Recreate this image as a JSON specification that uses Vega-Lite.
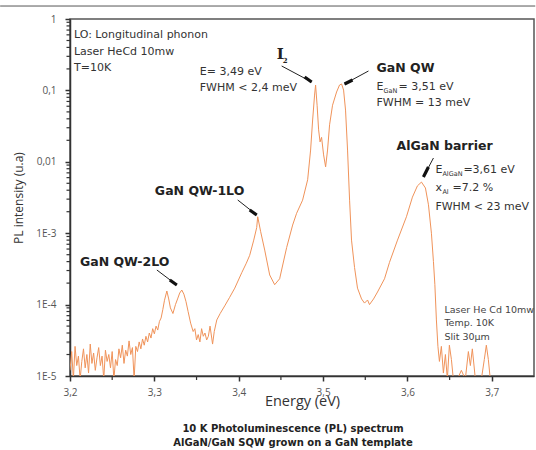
{
  "$schema": "https://vega.github.io/schema/vega-lite/v6.json",
  "width": 464,
  "height": 357,
  "autosize": "none",
  "padding": {"left": 70, "top": 19, "right": 2, "bottom": 74},
  "background": "white",
  "config": {
    "view": {"stroke": "#555", "strokeWidth": 1.5},
    "axis": {"domain": true, "ticks": true, "tickSize": 5, "tickColor": "#333", "tickWidth": 1.5, "domainColor": "#333", "domainWidth": 1.5, "grid": false},
    "text": {"align": "left", "baseline": "middle"}
  },
  "title": {
    "text": ["10 K Photoluminescence (PL) spectrum", "AlGaN/GaN SQW grown on a GaN template"],
    "orient": "bottom",
    "anchor": "middle",
    "frame": "group",
    "font": "DejaVu Sans",
    "fontSize": 10,
    "fontWeight": "bold",
    "color": "#222",
    "offset": 16,
    "dx": -9,
    "lineHeight": 14
  },
  "datasets": {
    "pl": [
      {"e": 3.200, "i": 1.2e-5}, {"e": 3.202, "i": 2.2e-5}, {"e": 3.204, "i": 9e-6}, {"e": 3.206, "i": 2.6e-5},
      {"e": 3.208, "i": 1.4e-5}, {"e": 3.210, "i": 1.9e-5}, {"e": 3.212, "i": 9e-6}, {"e": 3.214, "i": 1.6e-5},
      {"e": 3.216, "i": 2.4e-5}, {"e": 3.218, "i": 1.3e-5}, {"e": 3.220, "i": 2.0e-5}, {"e": 3.222, "i": 1.1e-5},
      {"e": 3.224, "i": 2.8e-5}, {"e": 3.226, "i": 1.5e-5}, {"e": 3.228, "i": 2.1e-5}, {"e": 3.230, "i": 1.2e-5},
      {"e": 3.232, "i": 1.8e-5}, {"e": 3.234, "i": 2.5e-5}, {"e": 3.236, "i": 1.4e-5}, {"e": 3.238, "i": 1.9e-5},
      {"e": 3.240, "i": 9e-6}, {"e": 3.242, "i": 2.3e-5}, {"e": 3.244, "i": 1.6e-5}, {"e": 3.246, "i": 2.0e-5},
      {"e": 3.248, "i": 1.3e-5}, {"e": 3.250, "i": 2.2e-5}, {"e": 3.252, "i": 9e-6}, {"e": 3.254, "i": 1.7e-5},
      {"e": 3.256, "i": 1.4e-5}, {"e": 3.258, "i": 2.4e-5}, {"e": 3.260, "i": 1.8e-5}, {"e": 3.262, "i": 2.7e-5},
      {"e": 3.264, "i": 1.5e-5}, {"e": 3.266, "i": 2.3e-5}, {"e": 3.268, "i": 1.9e-5}, {"e": 3.270, "i": 3.1e-5},
      {"e": 3.272, "i": 2.0e-5}, {"e": 3.274, "i": 2.5e-5}, {"e": 3.276, "i": 9e-6}, {"e": 3.278, "i": 2.6e-5},
      {"e": 3.280, "i": 2.2e-5}, {"e": 3.282, "i": 3.0e-5}, {"e": 3.284, "i": 2.4e-5}, {"e": 3.286, "i": 3.3e-5},
      {"e": 3.288, "i": 2.7e-5}, {"e": 3.290, "i": 3.6e-5}, {"e": 3.292, "i": 3.0e-5}, {"e": 3.294, "i": 4.0e-5},
      {"e": 3.296, "i": 3.4e-5}, {"e": 3.298, "i": 4.6e-5}, {"e": 3.300, "i": 3.9e-5}, {"e": 3.302, "i": 5.0e-5},
      {"e": 3.304, "i": 4.4e-5}, {"e": 3.306, "i": 5.8e-5}, {"e": 3.308, "i": 6.5e-5}, {"e": 3.310, "i": 8.5e-5},
      {"e": 3.312, "i": 1.15e-4}, {"e": 3.3148, "i": 1.55e-4}, {"e": 3.317, "i": 1.2e-4}, {"e": 3.319, "i": 9e-5},
      {"e": 3.322, "i": 7.5e-5}, {"e": 3.325, "i": 1.0e-4}, {"e": 3.3275, "i": 1.2e-4}, {"e": 3.330, "i": 1.45e-4},
      {"e": 3.3325, "i": 1.6e-4}, {"e": 3.335, "i": 1.4e-4}, {"e": 3.3375, "i": 1.1e-4}, {"e": 3.340, "i": 8.0e-5},
      {"e": 3.343, "i": 5.5e-5}, {"e": 3.346, "i": 4.2e-5}, {"e": 3.348, "i": 4.6e-5}, {"e": 3.350, "i": 3.2e-5},
      {"e": 3.352, "i": 3.8e-5}, {"e": 3.354, "i": 3.0e-5}, {"e": 3.356, "i": 4.6e-5}, {"e": 3.358, "i": 3.6e-5},
      {"e": 3.360, "i": 4.0e-5}, {"e": 3.362, "i": 3.2e-5}, {"e": 3.364, "i": 3.6e-5}, {"e": 3.366, "i": 5.0e-5},
      {"e": 3.368, "i": 3.4e-5}, {"e": 3.369, "i": 2.8e-5}, {"e": 3.371, "i": 4.2e-5}, {"e": 3.374, "i": 6.1e-5},
      {"e": 3.378, "i": 7.5e-5}, {"e": 3.3834, "i": 9.6e-5}, {"e": 3.389, "i": 1.25e-4}, {"e": 3.3953, "i": 1.7e-4},
      {"e": 3.4036, "i": 2.8e-4}, {"e": 3.409, "i": 3.8e-4}, {"e": 3.413, "i": 4.9e-4}, {"e": 3.4178, "i": 8.0e-4},
      {"e": 3.4213, "i": 1.2e-3}, {"e": 3.4225, "i": 1.7e-3}, {"e": 3.426, "i": 1.05e-3}, {"e": 3.4308, "i": 5.8e-4},
      {"e": 3.4367, "i": 2.6e-4}, {"e": 3.4426, "i": 1.9e-4}, {"e": 3.4485, "i": 2.3e-4}, {"e": 3.4568, "i": 6.3e-4},
      {"e": 3.4639, "i": 1.3e-3}, {"e": 3.4686, "i": 1.9e-3}, {"e": 3.4757, "i": 2.9e-3}, {"e": 3.4817, "i": 5.6e-3},
      {"e": 3.4852, "i": 0.0146}, {"e": 3.4876, "i": 0.0385}, {"e": 3.4899, "i": 0.086}, {"e": 3.4911, "i": 0.119},
      {"e": 3.4929, "i": 0.062}, {"e": 3.4947, "i": 0.028}, {"e": 3.4964, "i": 0.019}, {"e": 3.4982, "i": 0.022},
      {"e": 3.5006, "i": 0.0125}, {"e": 3.503, "i": 0.0085}, {"e": 3.5053, "i": 0.0146}, {"e": 3.5077, "i": 0.033},
      {"e": 3.5112, "i": 0.062}, {"e": 3.516, "i": 0.095}, {"e": 3.5195, "i": 0.119}, {"e": 3.5219, "i": 0.123},
      {"e": 3.5243, "i": 0.101}, {"e": 3.5266, "i": 0.053}, {"e": 3.529, "i": 0.0146}, {"e": 3.5314, "i": 0.0029},
      {"e": 3.5337, "i": 8.0e-4}, {"e": 3.5373, "i": 3.3e-4}, {"e": 3.5408, "i": 1.7e-4}, {"e": 3.5456, "i": 1.2e-4},
      {"e": 3.5491, "i": 1.05e-4}, {"e": 3.5527, "i": 1.16e-4}, {"e": 3.555, "i": 1.0e-4}, {"e": 3.5598, "i": 1.2e-4},
      {"e": 3.5645, "i": 1.5e-4}, {"e": 3.5728, "i": 2.3e-4}, {"e": 3.5787, "i": 3.9e-4}, {"e": 3.5882, "i": 8.0e-4},
      {"e": 3.5988, "i": 1.7e-3}, {"e": 3.6059, "i": 3.2e-3}, {"e": 3.6118, "i": 4.6e-3}, {"e": 3.6166, "i": 5.2e-3},
      {"e": 3.6213, "i": 4.3e-3}, {"e": 3.6249, "i": 2.5e-3}, {"e": 3.6284, "i": 1.0e-3}, {"e": 3.6308, "i": 4.0e-4},
      {"e": 3.6325, "i": 1.9e-4}, {"e": 3.6343, "i": 6.1e-5}, {"e": 3.6361, "i": 2.6e-5}, {"e": 3.6379, "i": 1.6e-5},
      {"e": 3.6402, "i": 2.6e-5}, {"e": 3.6426, "i": 1.1e-5}, {"e": 3.645, "i": 2.0e-5}, {"e": 3.6473, "i": 9e-6},
      {"e": 3.6497, "i": 2.7e-5}, {"e": 3.6521, "i": 1.7e-5}, {"e": 3.6544, "i": 9e-6}, {"e": 3.6592, "i": 9e-6},
      {"e": 3.6639, "i": 1.2e-5}, {"e": 3.6686, "i": 9e-6}, {"e": 3.6722, "i": 2.2e-5}, {"e": 3.6746, "i": 1.4e-5},
      {"e": 3.6769, "i": 2.4e-5}, {"e": 3.6805, "i": 9e-6}, {"e": 3.6876, "i": 9e-6}, {"e": 3.6911, "i": 1.7e-5},
      {"e": 3.6935, "i": 2.7e-5}, {"e": 3.6959, "i": 1.7e-5}, {"e": 3.6982, "i": 9e-6}
    ],
    "xminor": [
      {"v": 3.25}, {"v": 3.35}, {"v": 3.45}, {"v": 3.55}, {"v": 3.65}
    ],
    "yminor": [
      {"v": 2e-5}, {"v": 3e-5}, {"v": 4e-5}, {"v": 5e-5}, {"v": 6e-5}, {"v": 7e-5}, {"v": 8e-5}, {"v": 9e-5},
      {"v": 2e-4}, {"v": 3e-4}, {"v": 4e-4}, {"v": 5e-4}, {"v": 6e-4}, {"v": 7e-4}, {"v": 8e-4}, {"v": 9e-4},
      {"v": 0.002}, {"v": 0.003}, {"v": 0.004}, {"v": 0.005}, {"v": 0.006}, {"v": 0.007}, {"v": 0.008}, {"v": 0.009},
      {"v": 0.02}, {"v": 0.03}, {"v": 0.04}, {"v": 0.05}, {"v": 0.06}, {"v": 0.07}, {"v": 0.08}, {"v": 0.09},
      {"v": 0.2}, {"v": 0.3}, {"v": 0.4}, {"v": 0.5}, {"v": 0.6}, {"v": 0.7}, {"v": 0.8}, {"v": 0.9}
    ],
    "frameline": [
      {"e1": 3.1172, "e2": 3.7515, "i": 1.52}
    ],
    "arrows": [
      {"peak": "I2", "e1": 3.4509, "i1": 0.2197, "eh": 3.4781, "ih": 0.154, "e2": 3.4864, "i2": 0.1312},
      {"peak": "GaN QW", "e1": 3.5538, "i1": 0.187, "eh": 3.5349, "ih": 0.140, "e2": 3.5254, "i2": 0.123},
      {"peak": "AlGaN barrier", "e1": 3.6308, "i1": 0.0113, "eh": 3.6249, "ih": 0.00846, "e2": 3.6189, "i2": 0.00612},
      {"peak": "GaN QW-1LO", "e1": 3.3988, "i1": 0.00292, "eh": 3.4130, "ih": 0.00211, "e2": 3.4213, "i2": 0.0018},
      {"peak": "GaN QW-2LO", "e1": 3.3030, "i1": 3.05e-4, "eh": 3.3183, "ih": 2.21e-4, "e2": 3.3266, "i2": 1.88e-4}
    ],
    "notes": [
      {"t": "LO: Longitudinal phonon", "e": 3.2047, "i": 0.597},
      {"t": "Laser HeCd 10mw", "e": 3.2047, "i": 0.345},
      {"t": "T=10K", "e": 3.2047, "i": 0.206},
      {"t": "E= 3,49 eV", "e": 3.3538, "i": 0.181},
      {"t": "FWHM < 2,4 meV", "e": 3.3538, "i": 0.108},
      {"t": "E", "e": 3.5633, "i": 0.1116},
      {"t": "= 3,51 eV", "e": 3.5893, "i": 0.1116},
      {"t": "FWHM = 13 meV", "e": 3.5633, "i": 0.0666},
      {"t": "E", "e": 3.6331, "i": 0.00767},
      {"t": "=3,61 eV", "e": 3.6663, "i": 0.00767},
      {"t": "x", "e": 3.6331, "i": 0.0043},
      {"t": "=7.2 %", "e": 3.6533, "i": 0.0043},
      {"t": "FWHM < 23 meV", "e": 3.6331, "i": 0.00233}
    ],
    "subs": [
      {"t": "GaN", "e": 3.5716, "i": 0.098},
      {"t": "AlGaN", "e": 3.6414, "i": 0.00675},
      {"t": "Al", "e": 3.6414, "i": 0.00378}
    ],
    "peaks": [
      {"t": "GaN QW", "e": 3.5633, "i": 0.206},
      {"t": "AlGaN barrier", "e": 3.5870, "i": 0.01664},
      {"t": "GaN QW-1LO", "e": 3.3006, "i": 0.0039},
      {"t": "GaN QW-2LO", "e": 3.2118, "i": 3.95e-4}
    ],
    "exciton": [
      {"t": "I", "e": 3.445, "i": 0.3235, "part": "main"},
      {"t": "2", "e": 3.4521, "i": 0.258, "part": "sub"}
    ],
    "setup": [
      {"t": "Laser He Cd 10mw", "e": 3.6438, "i": 8.4e-5},
      {"t": "Temp. 10K", "e": 3.6438, "i": 5.5e-5},
      {"t": "Slit 30µm", "e": 3.6438, "i": 3.52e-5}
    ]
  },
  "layer": [
    {
      "data": {"name": "pl"},
      "mark": {"type": "line", "color": "#f0935a", "strokeWidth": 1, "clip": true},
      "encoding": {
        "x": {
          "field": "e",
          "type": "quantitative",
          "scale": {"domain": [3.2, 3.75], "nice": false, "zero": false},
          "axis": {
            "title": "Energy (eV)",
            "values": [3.2, 3.3, 3.4, 3.5, 3.6, 3.7],
            "labelExpr": "replace(format(datum.value, '.1f'), '.', ',')",
            "labelOverlap": false,
            "labelFlush": false,
            "labelFont": "Open Sans",
            "labelFontSize": 10,
            "labelColor": "#555",
            "labelPadding": 6,
            "titleFont": "Open Sans",
            "titleFontSize": 14.5,
            "titleFontWeight": "normal",
            "titleColor": "#333",
            "titlePadding": -3
          }
        },
        "y": {
          "field": "i",
          "type": "quantitative",
          "scale": {"type": "log", "domain": [1e-5, 1], "nice": false},
          "axis": {
            "title": "PL intensity (u.a)",
            "values": [1e-5, 1e-4, 0.001, 0.01, 0.1, 1],
            "labelExpr": "datum.value > 0.5 ? '1' : datum.value > 0.05 ? '0,1' : datum.value > 0.005 ? '0,01' : '1E' + round(log(datum.value) / LN10)",
            "labelOverlap": false,
            "labelFlush": false,
            "labelFont": "Open Sans",
            "labelFontSize": 10,
            "labelColor": "#555",
            "labelPadding": 9,
            "titleFont": "Open Sans",
            "titleFontSize": 12,
            "titleFontWeight": "normal",
            "titleColor": "#333",
            "titlePadding": 10
          }
        }
      }
    },
    {
      "data": {"name": "yminor"},
      "mark": {"type": "point", "shape": "M-1,0H0", "size": 49, "filled": false, "stroke": "#333", "strokeWidth": 1.2, "opacity": 1},
      "encoding": {
        "x": {"datum": 3.2, "type": "quantitative"},
        "y": {"field": "v", "type": "quantitative"}
      }
    },
    {
      "data": {"name": "xminor"},
      "mark": {"type": "point", "shape": "M0,0V1", "size": 64, "filled": false, "stroke": "#333", "strokeWidth": 1.2, "opacity": 1},
      "encoding": {
        "x": {"field": "v", "type": "quantitative"},
        "y": {"datum": 1e-5, "type": "quantitative"}
      }
    },
    {
      "data": {"name": "frameline"},
      "mark": {"type": "rule", "clip": false, "color": "#555", "strokeWidth": 1},
      "encoding": {
        "x": {"field": "e1", "type": "quantitative"},
        "x2": {"field": "e2"},
        "y": {"field": "i", "type": "quantitative"}
      }
    },
    {
      "data": {"name": "arrows"},
      "mark": {"type": "rule", "color": "#222", "strokeWidth": 1},
      "encoding": {
        "x": {"field": "e1", "type": "quantitative"},
        "x2": {"field": "e2"},
        "y": {"field": "i1", "type": "quantitative"},
        "y2": {"field": "i2"}
      }
    },
    {
      "data": {"name": "arrows"},
      "mark": {"type": "rule", "color": "#111", "strokeWidth": 3.2, "strokeCap": "butt"},
      "encoding": {
        "x": {"field": "eh", "type": "quantitative"},
        "x2": {"field": "e2"},
        "y": {"field": "ih", "type": "quantitative"},
        "y2": {"field": "i2"}
      }
    },
    {
      "data": {"name": "notes"},
      "mark": {"type": "text", "font": "DejaVu Sans", "fontSize": 11, "color": "#333"},
      "encoding": {
        "x": {"field": "e", "type": "quantitative"},
        "y": {"field": "i", "type": "quantitative"},
        "text": {"field": "t"}
      }
    },
    {
      "data": {"name": "subs"},
      "mark": {"type": "text", "font": "DejaVu Sans", "fontSize": 6.5, "color": "#333"},
      "encoding": {
        "x": {"field": "e", "type": "quantitative"},
        "y": {"field": "i", "type": "quantitative"},
        "text": {"field": "t"}
      }
    },
    {
      "data": {"name": "peaks"},
      "mark": {"type": "text", "font": "DejaVu Sans", "fontSize": 12.5, "fontWeight": "bold", "color": "#222"},
      "encoding": {
        "x": {"field": "e", "type": "quantitative"},
        "y": {"field": "i", "type": "quantitative"},
        "text": {"field": "t"}
      }
    },
    {
      "data": {"name": "exciton"},
      "transform": [{"filter": "datum.part === 'main'"}],
      "mark": {"type": "text", "font": "DejaVu Serif", "fontSize": 15, "fontWeight": "bold", "color": "#222"},
      "encoding": {
        "x": {"field": "e", "type": "quantitative"},
        "y": {"field": "i", "type": "quantitative"},
        "text": {"field": "t"}
      }
    },
    {
      "data": {"name": "exciton"},
      "transform": [{"filter": "datum.part === 'sub'"}],
      "mark": {"type": "text", "font": "DejaVu Serif", "fontSize": 7, "fontWeight": "bold", "color": "#222"},
      "encoding": {
        "x": {"field": "e", "type": "quantitative"},
        "y": {"field": "i", "type": "quantitative"},
        "text": {"field": "t"}
      }
    },
    {
      "data": {"name": "setup"},
      "mark": {"type": "text", "font": "DejaVu Sans", "fontSize": 9.5, "color": "#444"},
      "encoding": {
        "x": {"field": "e", "type": "quantitative"},
        "y": {"field": "i", "type": "quantitative"},
        "text": {"field": "t"}
      }
    }
  ]
}
